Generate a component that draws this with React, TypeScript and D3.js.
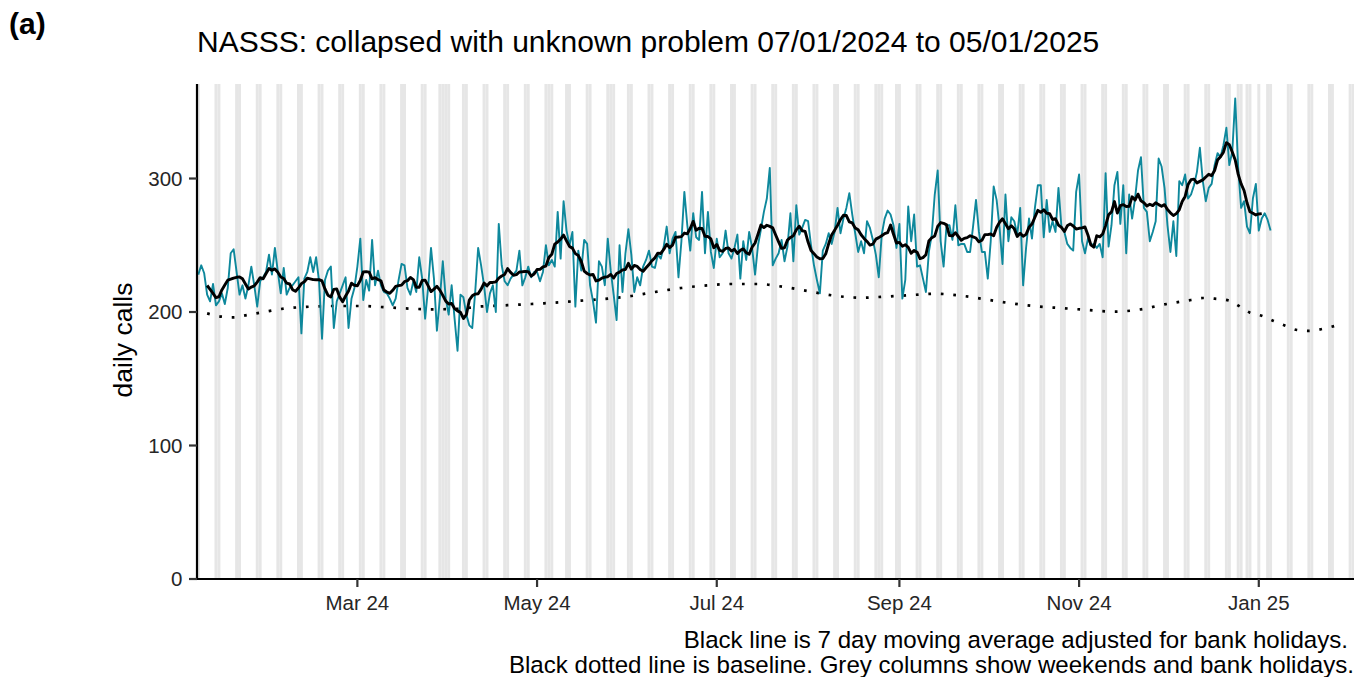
import React from "react";
import * as d3 from "d3";

const startDate = "2024-01-07";

// daily calls, 07/01/2024 .. 05/01/2025 (one value per day)
const dailyCalls: number[] = [
  228,235,229,213,208,221,205,208,214,206,
  218,244,247,230,213,220,210,220,234,220,
  204,223,226,230,243,228,248,230,214,233,
  213,218,220,223,226,184,225,230,241,230,
  241,223,180,224,231,
  234,188,208,214,220,226,188,210,218,234,
  255,209,224,216,254,220,231,220,215,214,
  210,205,210,224,236,235,218,213,223,215,
  241,225,195,218,248,225,186,210,238,210,
  198,220,195,171,213,211,
  198,190,188,215,248,235,220,200,214,220,
  200,266,235,223,220,225,228,231,246,220,
  226,234,226,230,230,223,230,250,235,239,
  234,275,240,283,261,250,260,204,246,231,
  254,251,220,208,192,238,
  234,220,255,231,213,194,250,215,244,262,
  243,215,226,220,234,239,246,234,233,243,
  240,249,264,244,255,260,226,253,290,265,
  246,274,256,254,290,244,275,245,233,255,
  241,244,261,244,240,248,
  258,225,253,239,260,248,228,250,262,275,
  285,308,235,240,244,254,238,249,274,238,
  280,258,263,269,268,250,235,224,214,246,
  251,259,251,260,278,259,270,278,289,273,
  259,245,253,244,268,
  263,254,243,226,258,270,276,273,265,248,
  266,210,224,279,253,273,234,235,225,215,
  245,258,288,306,253,234,265,265,254,280,
  250,251,251,245,245,264,284,260,245,245,
  225,253,294,284,263,236,
  288,253,271,268,258,278,220,248,270,255,
  278,295,295,256,284,260,268,260,293,264,
  260,251,248,246,290,303,253,244,255,250,
  251,248,251,241,304,249,265,295,305,266,
  295,244,288,270,285,306,
  316,278,275,253,260,268,315,309,293,265,
  245,268,242,298,295,303,285,288,295,305,
  323,298,283,293,296,310,319,316,325,338,
  310,320,360,308,278,283,264,259,285,296,
  261,270,274,269,261,
];

const baselineDates: string[] = [
  "2024-01-10","2024-01-15","2024-01-19","2024-01-23","2024-01-28","2024-02-05",
  "2024-02-14","2024-02-22","2024-03-02","2024-03-11","2024-03-19","2024-03-27",
  "2024-04-05","2024-04-11","2024-04-20","2024-04-29","2024-05-07","2024-05-16",
  "2024-05-25","2024-06-02","2024-06-10","2024-06-19","2024-06-28","2024-07-06",
  "2024-07-15","2024-07-24","2024-08-01","2024-08-10","2024-08-19","2024-08-27",
  "2024-09-05","2024-09-13","2024-09-22","2024-10-01","2024-10-09","2024-10-18",
  "2024-10-27","2024-11-04","2024-11-13","2024-11-22","2024-11-30","2024-12-09",
  "2024-12-13","2024-12-17","2024-12-22","2024-12-26","2024-12-29","2025-01-02",
  "2025-01-06","2025-01-10","2025-01-14","2025-01-18","2025-01-23","2025-01-27",
];
const baselineValues: number[] = [
  199,196.5,196,197.5,199.5,202.5,
  204,204.5,204.5,203.5,202.5,202,
  202.5,204,205,206,207,208.5,
  210,212,215,218,220,221,
  221,218.7,215.7,212.2,210.7,211.5,
  212.7,213.7,212.2,209.2,206.5,204.2,
  202.8,201.5,200.3,202,205.7,209,
  210.5,210,208.5,203.5,199.5,197.2,
  193.3,189.7,186.5,185.8,187.5,189.7,
];

const bankHolidays: string[] = [
  "2024-03-29","2024-04-01","2024-05-06","2024-05-27",
  "2024-08-26","2024-12-25","2024-12-26","2025-01-01",
];

const yTicks: number[] = [0, 100, 200, 300];
const xTickDates: string[] = ["2024-03-01","2024-05-01","2024-07-01","2024-09-01","2024-11-01","2025-01-01"];
const xTickLabels: string[] = ["Mar 24","May 24","Jul 24","Sep 24","Nov 24","Jan 25"];

const titleText = "NASSS: collapsed with unknown problem 07/01/2024 to 05/01/2025";
const captionLines = [
  "Black line is 7 day moving average adjusted for bank holidays.",
  "Black dotted line is baseline. Grey columns show weekends and bank holidays.",
];

const W = 1363, H = 677;
const P = { left: 197, right: 1354, top: 84, bottom: 579 };
const DAY = 86400000;
const FONT = "'Liberation Sans', Arial, Helvetica, sans-serif";

export default function App() {
  const parse = d3.utcParse("%Y-%m-%d");
  const fmt = d3.utcFormat("%Y-%m-%d");
  const start = parse(startDate)!.getTime();

  const x = d3.scaleUtc()
    .domain([new Date(start - 0.441 * DAY), new Date(start + 392.32 * DAY)])
    .range([P.left, P.right]);
  const y = d3.scaleLinear().domain([0, 370.8]).range([P.bottom, P.top]);

  const daily = dailyCalls.map((v, i) => ({ date: new Date(start + i * DAY), v }));
  const ma: { date: Date; v: number }[] = [];
  for (let i = 3; i < dailyCalls.length - 3; i++) {
    ma.push({ date: daily[i].date, v: d3.mean(dailyCalls.slice(i - 3, i + 4)) as number });
  }
  const baseline = baselineDates.map((d, i) => ({ date: parse(d)!, v: baselineValues[i] }));

  const bh = new Set(bankHolidays);
  const cols: { x0: number; x1: number; key: string }[] = [];
  for (let i = -2; i < 395; i++) {
    const dt = new Date(start + i * DAY);
    const wd = dt.getUTCDay();
    if (wd === 0 || wd === 6 || bh.has(fmt(dt))) {
      const x0 = Math.max(P.left, x(new Date(dt.getTime() - DAY / 2)));
      const x1 = Math.min(P.right, x(new Date(dt.getTime() + DAY / 2)));
      if (x1 > x0) cols.push({ x0, x1, key: fmt(dt) });
    }
  }

  const line = d3.line<{ date: Date; v: number }>()
    .x((d) => x(d.date))
    .y((d) => y(d.v));
  const smooth = d3.line<{ date: Date; v: number }>()
    .x((d) => x(d.date))
    .y((d) => y(d.v))
    .curve(d3.curveMonotoneX);

  return (
    <svg
      width={W}
      height={H}
      style={{ position: "absolute", left: 0, top: 0, background: "#fff" }}
      fontFamily={FONT}
    >
      <rect x={0} y={0} width={W} height={H} fill="#fff" />
      {cols.map((c) => (
        <rect key={c.key} x={c.x0} y={P.top} width={c.x1 - c.x0} height={P.bottom - P.top} fill="#e6e6e6" />
      ))}
      <path d={smooth(baseline) || ""} fill="none" stroke="#000" strokeWidth={2.7} strokeDasharray="2.7 9.8" />
      <path d={line(daily) || ""} fill="none" stroke="#0e889c" strokeWidth={1.9} strokeLinejoin="round" />
      <path d={line(ma) || ""} fill="none" stroke="#000" strokeWidth={2.9} strokeLinejoin="round" />

      {/* axes */}
      <line x1={P.left} x2={P.left} y1={P.top} y2={P.bottom + 1} stroke="#000" strokeWidth={2.2} />
      <line x1={P.left - 1} x2={P.right} y1={P.bottom} y2={P.bottom} stroke="#000" strokeWidth={2.2} />
      {yTicks.map((t) => (
        <g key={t}>
          <line x1={P.left - 8} x2={P.left} y1={y(t)} y2={y(t)} stroke="#333" strokeWidth={2.2} />
          <text x={182.5} y={y(t)} dy="0.36em" textAnchor="end" fontSize={20.5} fill="#262626">{t}</text>
        </g>
      ))}
      {xTickDates.map((d, i) => {
        const xx = x(parse(d)!);
        return (
          <g key={d}>
            <line x1={xx} x2={xx} y1={P.bottom} y2={P.bottom + 8} stroke="#333" strokeWidth={2.2} />
            <text x={xx} y={609.5} textAnchor="middle" fontSize={20.5} fill="#262626">{xTickLabels[i]}</text>
          </g>
        );
      })}

      <text transform="translate(131.5,340) rotate(-90)" textAnchor="middle" fontSize={26.5} fill="#000">daily calls</text>
      <text x={P.left} y={52} fontSize={30} fill="#000">{titleText}</text>
      <text x={9} y={34} fontSize={30} fontWeight="bold" fill="#000">(a)</text>
      <text x={1348} y={648} textAnchor="end" fontSize={24.1} fill="#000">{captionLines[0]}</text>
      <text x={1354} y={673} textAnchor="end" fontSize={24.1} fill="#000">{captionLines[1]}</text>
    </svg>
  );
}
